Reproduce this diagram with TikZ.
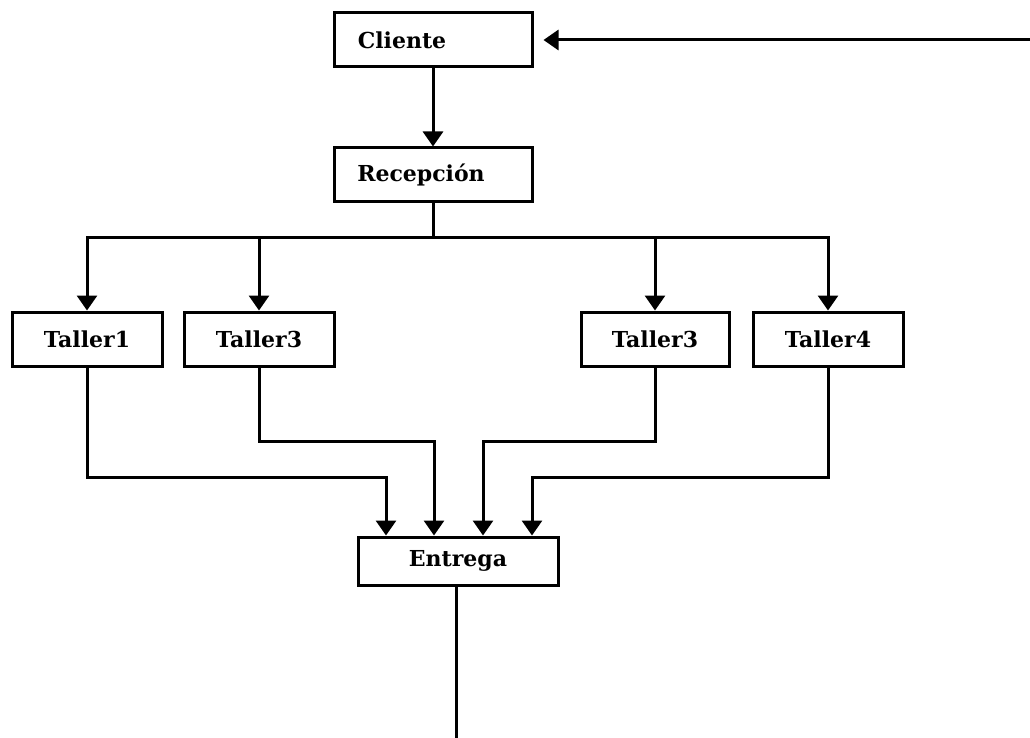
\documentclass[tikz,border=0pt]{standalone}
\usepackage{fontspec}
\setmainfont{DejaVu Serif}
\usetikzlibrary{arrows.meta}
\begin{document}
\begin{tikzpicture}[x=1pt,y=-1pt,
  stage/.style={draw=black,line width=3pt,fill=white,minimum height=54pt,
    inner sep=0pt,font=\bfseries\fontsize{22}{24}\selectfont},
  wire/.style={line width=3pt,line cap=rect},
  flow/.style={wire,-{Triangle[width=20pt,length=15pt]}}]
\useasboundingbox (0,0) rectangle (1030,738);

% stages
\node[stage,minimum width=198pt] (cli) at (433,40) {\hspace*{-62pt}Cliente};
\node[stage,minimum width=198pt] (rec) at (433,175) {\hspace*{-24pt}Recepción};
\node[stage,minimum width=150pt] (t1) at (87,339) {Taller1};
\node[stage,minimum width=150pt] (t2) at (259,339) {Taller3};
\node[stage,minimum width=148pt] (t3) at (655,339) {Taller3};
\node[stage,minimum width=150pt] (t4) at (828,339) {Taller4};
\node[stage,minimum width=200pt,minimum height=48pt] (ent) at (458,561) {Entrega};

% branch points, bends and loose ends
\coordinate (bus) at (433,237);
\coordinate (ret) at (1030,40);
\coordinate (out) at (456,738);
\coordinate (b1) at (386,477);
\coordinate (b2) at (434,441);
\coordinate (b3) at (483,441);
\coordinate (b4) at (532,477);

% client to reception, return loop
\draw[flow] (ret) -- ([xshift=10pt]cli.east);
\draw[flow] (cli) -- (rec);

% distribution to the workshops
\draw[wire] (rec.south) -- (bus);
\draw[flow] (bus) -| (t1.north);
\draw[flow] (bus) -| (t2.north);
\draw[flow] (bus) -| (t3.north);
\draw[flow] (bus) -| (t4.north);

% collection at delivery
\draw[flow] (t1.south) |- (b1) -- (b1 |- ent.north);
\draw[flow] (t2.south) |- (b2) -- (b2 |- ent.north);
\draw[flow] (t3.south) |- (b3) -- (b3 |- ent.north);
\draw[flow] (t4.south) |- (b4) -- (b4 |- ent.north);

% outgoing line
\draw[wire] (out |- ent.south) -- (out);
\end{tikzpicture}
\end{document}
